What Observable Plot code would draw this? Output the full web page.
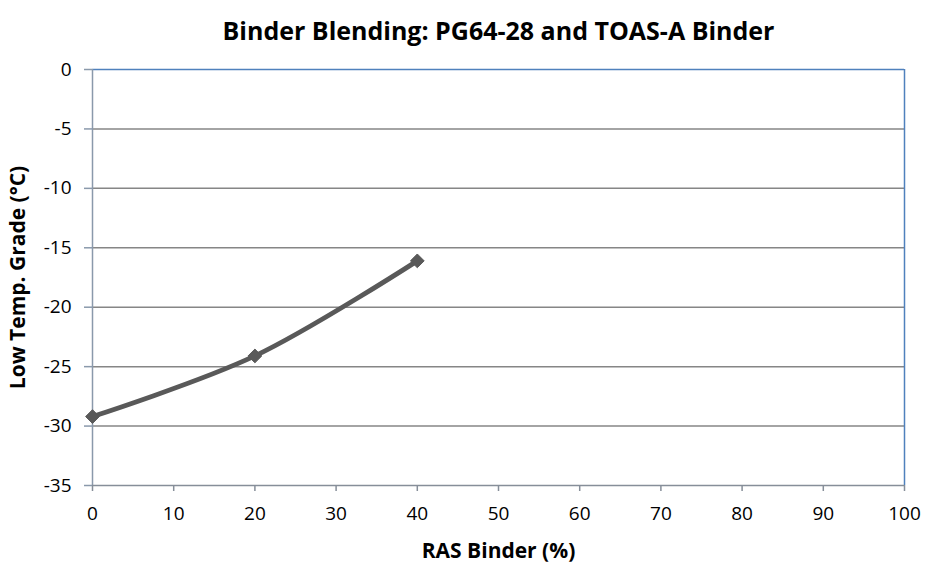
<!DOCTYPE html>
<html>
<head>
<meta charset="utf-8">
<script src="https://cdn.jsdelivr.net/npm/d3@7"></script>
<script src="https://cdn.jsdelivr.net/npm/@observablehq/plot@0.6"></script>
<style>
  html, body { margin: 0; padding: 0; background: #fff; }
  #chart svg { display: block; }
</style>
</head>
<body>
<div id="chart"></div>
<script>
// Data
const rasBinder = [0, 20, 40];
const lowTempGrade = [-29.2, -24.1, -16.1];
const xTicks = [0, 10, 20, 30, 40, 50, 60, 70, 80, 90, 100];
const yTicks = [0, -5, -10, -15, -20, -25, -30, -35];
const titleText = "Binder Blending: PG64-28 and TOAS-A Binder";
const xLabel = "RAS Binder (%)";
const yLabel = "Low Temp. Grade (°C)";

const data = rasBinder.map((x, i) => ({x, y: lowTempGrade[i]}));

const font = "'Open Sans', 'DejaVu Sans', sans-serif";

const chart = Plot.plot({
  width: 925,
  height: 567,
  marginLeft: 92,
  marginRight: 21,
  marginTop: 69,
  marginBottom: 82,
  style: {fontFamily: font, fontSize: "19px", color: "#000", background: "#fff"},
  x: {domain: [0, 100], label: null},
  y: {domain: [-35, 0], label: null},
  marks: [
    Plot.ruleY(yTicks.filter(d => d !== 0 && d !== -35), {stroke: "#868686", strokeWidth: 1.5}),
    Plot.ruleY([0], {stroke: "#4F81BD", strokeWidth: 1.5}),
    Plot.ruleX([100], {stroke: "#4F81BD", strokeWidth: 1.5}),
    Plot.ruleX([0], {stroke: "#8A99AB", strokeWidth: 1.5}),
    Plot.ruleY([-35], {stroke: "#868E99", strokeWidth: 1.5}),
    Plot.axisX({ticks: xTicks, tickFormat: d => String(d), tickSize: 6, tickPadding: 15, stroke: "#868E99", strokeWidth: 1.5, fill: "#000", label: null, fontSize: 19}),
    Plot.axisY({ticks: yTicks, tickFormat: d => String(d), tickSize: 8, tickPadding: 13, stroke: "#8A99AB", strokeWidth: 1.5, fill: "#000", label: null, fontSize: 19}),
    Plot.line(data, {x: "x", y: "y", curve: "catmull-rom", stroke: "#595959", strokeWidth: 4.8}),
    Plot.dot(data, {x: "x", y: "y", symbol: "diamond2", r: 6.2, fill: "#595959", stroke: "#595959", strokeWidth: 1}),
    Plot.text([titleText], {frameAnchor: "top", dy: -38, fontSize: 25, fontWeight: "bold", fill: "#000", lineAnchor: "middle", textAnchor: "middle"}),
    Plot.text([xLabel], {frameAnchor: "bottom", dy: 66, fontSize: 21, fontWeight: "bold", fill: "#000", lineAnchor: "middle", textAnchor: "middle"}),
    Plot.text([yLabel], {frameAnchor: "left", dx: -74, rotate: -90, fontSize: 21, fontWeight: "bold", fill: "#000", lineAnchor: "middle", textAnchor: "middle"})
  ]
});

document.getElementById("chart").appendChild(chart);
</script>
</body>
</html>
